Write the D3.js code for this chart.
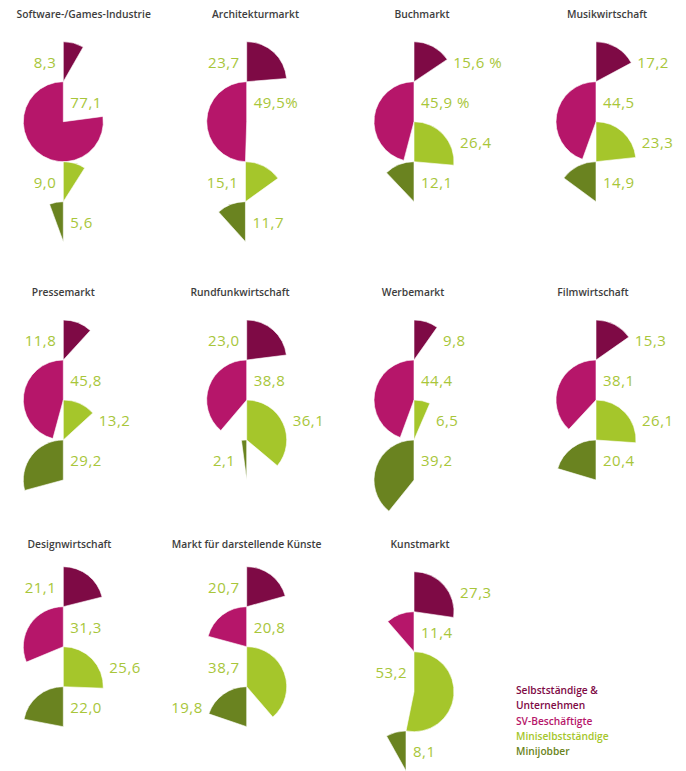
<!DOCTYPE html>
<html><head><meta charset="utf-8">
<script src="https://cdn.jsdelivr.net/npm/d3@7"></script>
<style>html,body{margin:0;padding:0;background:#fff;} svg{display:block;}</style>
</head><body><div id="chart"></div>
<script>
// ---- data ----
const markets = ["Software-/Games-Industrie", "Architekturmarkt", "Buchmarkt", "Musikwirtschaft",
  "Pressemarkt", "Rundfunkwirtschaft", "Werbemarkt", "Filmwirtschaft",
  "Designwirtschaft", "Markt für darstellende Künste", "Kunstmarkt"];
const seriesNames = ["Selbstständige & Unternehmen", "SV-Beschäftigte", "Miniselbstständige", "Minijobber"];
const selbststaendige     = [8.3, 23.7, 15.6, 17.2, 11.8, 23.0, 9.8, 15.3, 21.1, 20.7, 27.3];
const svBeschaeftigte     = [77.1, 49.5, 45.9, 44.5, 45.8, 38.8, 44.4, 38.1, 31.3, 20.8, 11.4];
const miniselbststaendige = [9.0, 15.1, 26.4, 23.3, 13.2, 36.1, 6.5, 26.1, 25.6, 38.7, 53.2];
const minijobber          = [5.6, 11.7, 12.1, 14.9, 29.2, 2.1, 39.2, 20.4, 22.0, 19.8, 8.1];
const valueSuffix = [["","","",""],["","%","",""],[" %"," %","",""],["","","",""],
  ["","","",""],["","","",""],["","","",""],["","","",""],["","","",""],["","","",""],["","","",""]];
const legendLines = [["Selbstständige &", "Unternehmen"], ["SV-Beschäftigte"], ["Miniselbstständige"], ["Minijobber"]];

// ---- layout / style ----
const labelSide = [["L","R","L","R"],["L","R","L","R"],["R","R","R","R"],["R","R","R","R"],
  ["L","R","R","R"],["L","R","R","L"],["R","R","R","R"],["R","R","R","R"],
  ["L","R","R","R"],["L","R","L","L"],["R","R","L","R"]];
const W = 686, H = 771, R = 40;
const colors = ["#7e0a45", "#b6166a", "#a5c62b", "#6a8320"];
const labelColor = "#a8c63a";
const colX = [63.3, 246.7, 414, 596], rowTop = [41.7, 320, 566.7], rowTitleY = [18.3, 296, 548];
const titleShift = [20.4, 8.8, 8, 11, 0, -6.7, -1, -3, 6.2, 0, 6];
const topShift = [0,0,0,0,0,0,0,0,0,0,5];

const seriesValues = [selbststaendige, svBeschaeftigte, miniselbststaendige, minijobber];
const angle = d3.scaleLinear().domain([0, 100]).range([0, 2 * Math.PI]);
const arc = d3.arc().innerRadius(0).outerRadius(R);
const fmt = d3.formatLocale({decimal: ",", thousands: ".", grouping: [3], currency: ["", "€"]}).format(".1f");

const svg = d3.select("#chart").append("svg").attr("width", W).attr("height", H)
  .style("font-family", "'Open Sans', sans-serif");

markets.forEach((name, p) => {
  const col = p % 4, row = Math.floor(p / 4);
  const g = svg.append("g");
  const ax = colX[col];
  g.append("text").attr("x", ax + titleShift[p]).attr("y", rowTitleY[row])
    .attr("text-anchor", "middle").attr("font-size", 10.3).attr("font-weight", 600)
    .attr("fill", "#3d3d3d").text(name);
  let topX = ax, topY = rowTop[row] + topShift[p];
  seriesValues.forEach((vals, i) => {
    const v = vals[p];
    const th = angle(v);
    const cw = i % 2 === 0;
    const cx = topX, cy = topY + R;
    g.append("path")
      .attr("d", arc({startAngle: cw ? 0 : -th, endAngle: cw ? th : 0}))
      .attr("transform", `translate(${cx},${cy})`)
      .attr("fill", colors[i]).attr("stroke", "#fff").attr("stroke-width", 0.6);
    const side = labelSide[p][i];
    const same = (side === "R") === cw;
    const off = same ? R * Math.sin(Math.min(th, Math.PI / 2)) + 6 : 7;
    g.append("text")
      .attr("x", side === "R" ? cx + off : cx - off)
      .attr("y", cy - 14)
      .attr("text-anchor", side === "R" ? "start" : "end")
      .attr("font-size", 15).attr("letter-spacing", 0.5).attr("fill", labelColor)
      .text(fmt(v) + valueSuffix[p][i]);
    const s = cw ? 1 : -1;
    if (th > 170 * Math.PI / 180 && th <= 1.5 * Math.PI) {
      topX = cx + s * R * Math.sin(th); topY = cy - R * Math.cos(th);
    } else if (th > 1.5 * Math.PI) {
      topX = cx; topY = cy + R;
    } else {
      topX = cx; topY = cy;
    }
  });
});

// legend
const legendY = [694, 708.5, 725, 740, 755];
let li = 0;
const legend = svg.append("g");
legendLines.forEach((lines, i) => {
  lines.forEach(t => {
    legend.append("text").attr("x", 516).attr("y", legendY[li++])
      .attr("font-size", 10.2).attr("font-weight", 600).attr("fill", colors[i]).text(t);
  });
});
</script>
</body></html>
